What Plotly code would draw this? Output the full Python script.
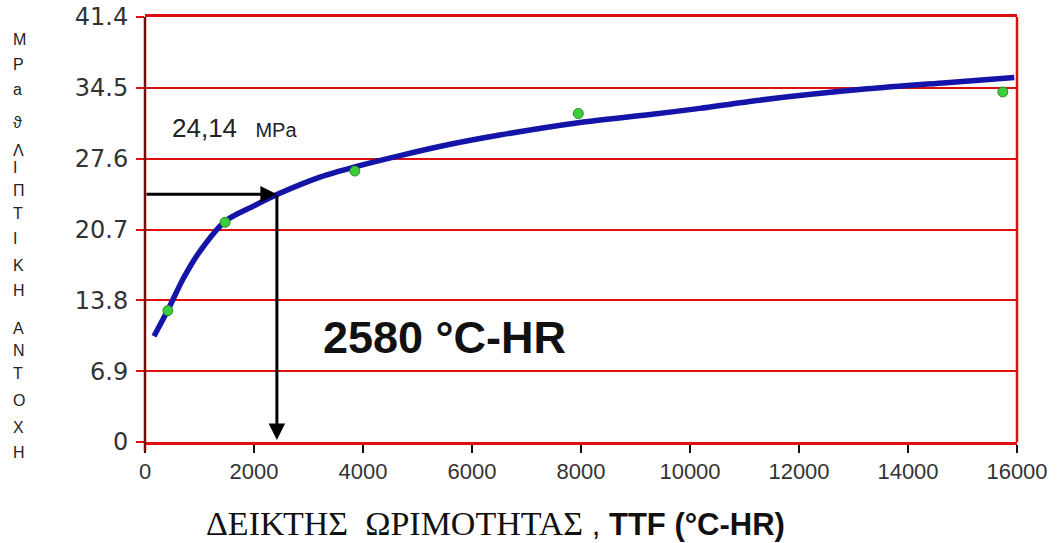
import plotly.graph_objects as go

# ---- data ----
curve_x = [165, 420, 700, 1010, 1470, 2000, 2420, 3210, 3850, 4680, 5600, 6510, 7950, 9270, 10180, 11280, 13250, 14700, 15950]
curve_y = [10.3, 12.85, 15.9, 18.6, 21.5, 23.0, 24.1, 25.8, 26.8, 27.9, 29.0, 29.9, 31.1, 31.9, 32.5, 33.3, 34.4, 35.0, 35.5]

meas_x = [420, 1470, 3850, 7950, 15740]
meas_y = [12.8, 21.4, 26.4, 32.0, 34.1]

x_ticks = [0, 2000, 4000, 6000, 8000, 10000, 12000, 14000, 16000]
x_tick_labels = [str(v) for v in x_ticks]
y_ticks = [0, 6.9, 13.8, 20.7, 27.6, 34.5, 41.4]
y_tick_labels = ["0", "6.9", "13.8", "20.7", "27.6", "34.5", "41.4"]

read_strength = 24.14   # MPa
read_ttf_drawn = 2420   # where the arrow is drawn
read_ttf_label = "2580 °C-HR"

ylabel_letters = ["M", "P", "a", "ϑ", "Λ", "Ι", "Π", "Τ", "Ι", "Κ", "Η", "Α", "Ν", "Τ", "Ο", "Χ", "Η"]
ylabel_pix = [30, 55, 80, 113, 141, 167, 190, 213, 238, 265, 290, 338, 360, 383, 410, 437, 462]

RED = "#e01010"
MAROON = "#7a0a0a"

L, R, T, B = 145, 47, 17, 101
PW, PH = 1064 - L - R, 543 - T - B

fig = go.Figure()

fig.add_trace(go.Scatter(
    x=curve_x, y=curve_y, mode="lines",
    line=dict(color="#1414a8", width=5.5, shape="spline", smoothing=0.8),
    showlegend=False, hoverinfo="skip"))

fig.add_trace(go.Scatter(
    x=meas_x, y=meas_y, mode="markers",
    marker=dict(color="#3ccc3c", size=10, line=dict(color="#2a8a2a", width=1)),
    showlegend=False))

# arrows
fig.add_annotation(x=read_ttf_drawn, y=read_strength, ax=0, ay=read_strength,
                   xref="x", yref="y", axref="x", ayref="y", text="",
                   showarrow=True, arrowhead=2, arrowsize=1.1, arrowwidth=3, arrowcolor="black")
fig.add_annotation(x=read_ttf_drawn, y=0.2, ax=read_ttf_drawn, ay=read_strength,
                   xref="x", yref="y", axref="x", ayref="y", text="",
                   showarrow=True, arrowhead=2, arrowsize=1.1, arrowwidth=3, arrowcolor="black")

# texts
fig.add_annotation(x=460, y=30.6, xref="x", yref="y", showarrow=False, xanchor="left",
                   text="24,14 <span style='font-size:20px'>&nbsp;&nbsp;MPa</span>",
                   font=dict(family="Liberation Sans, Arial", size=26, color="#222"))
fig.add_annotation(x=5500, y=10.2, xref="x", yref="y", showarrow=False,
                   text="<b>" + read_ttf_label + "</b>",
                   font=dict(family="Liberation Sans, Arial", size=45, color="#111"))

# vertical y-axis label (stacked letters)
for ch, py in zip(ylabel_letters, ylabel_pix):
    fig.add_annotation(x=(12 - L) / PW, y=(442 - py) / PH, xref="paper", yref="paper",
                       text=ch, showarrow=False, borderpad=0,
                       font=dict(family="Liberation Sans, Arial", size=16, color="#222"))

# x-axis title
fig.add_annotation(x=(495 - L) / PW, y=-(523 - 442) / PH, xref="paper", yref="paper",
                   showarrow=False, yanchor="middle",
                   text="<span style='font-family:Liberation Serif;font-size:34px'>ΔΕΙΚΤΗΣ&nbsp;&nbsp;ΩΡΙΜΟΤΗΤΑΣ</span> , "
                        "<b>TTF (°C-HR)</b>",
                   font=dict(family="Liberation Sans, Arial", size=31, color="#111"))

# borders
fig.add_shape(type="line", xref="paper", yref="paper", x0=1, x1=1, y0=0, y1=1,
              line=dict(color=RED, width=2.5))
fig.add_shape(type="line", xref="paper", yref="paper", x0=0, x1=0, y0=-0.022, y1=1,
              line=dict(color=MAROON, width=2.5))

fig.update_xaxes(range=[0, 16000], tickvals=x_ticks, ticktext=x_tick_labels,
                 showgrid=False, zeroline=False, automargin=False,
                 showline=True, linecolor=RED, linewidth=2.5, mirror=True,
                 ticks="outside", ticklen=8, tickwidth=2, tickcolor="#111",
                 tickfont=dict(family="Liberation Sans, Arial", size=22, color="#333"))
fig.update_yaxes(range=[0, 41.4], tickvals=y_ticks, ticktext=y_tick_labels,
                 showgrid=True, gridcolor=RED, gridwidth=2, zeroline=False,
                 showline=False, automargin=False,
                 ticks="outside", ticklen=8, tickwidth=2, tickcolor=RED,
                 ticklabelstandoff=3,
                 tickfont=dict(family="DejaVu Sans, Liberation Sans", size=24, color="#333"))

fig.update_layout(width=1064, height=543,
                  margin=dict(l=L, r=R, t=T, b=B),
                  plot_bgcolor="white", paper_bgcolor="white", showlegend=False)

fig.write_html("out.html", config={"displayModeBar": False},
               post_script="document.body.style.margin='0';document.body.style.overflow='hidden';")
